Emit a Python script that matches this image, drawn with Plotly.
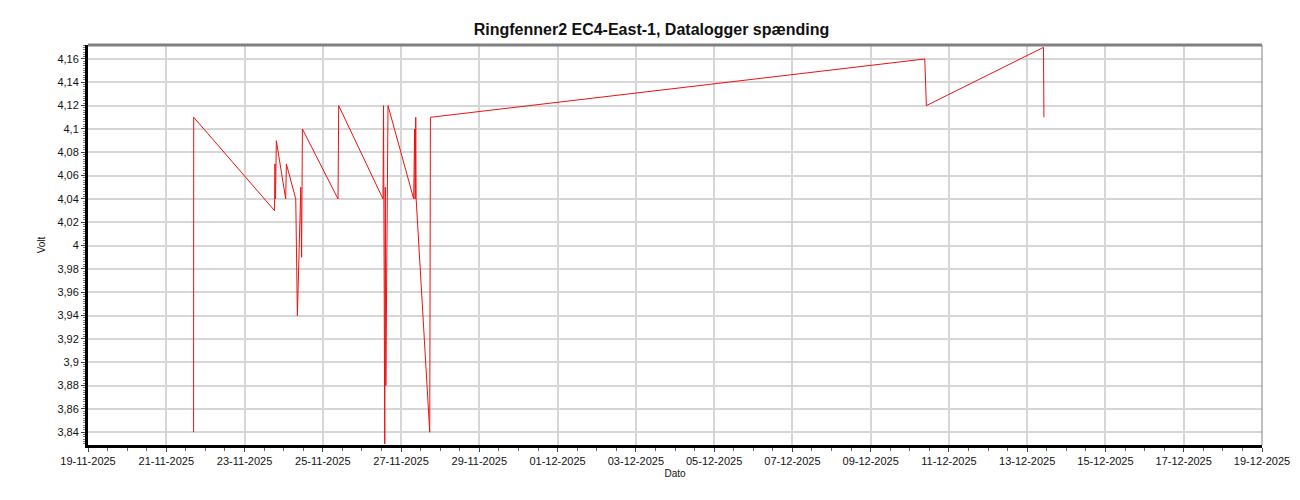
import plotly.graph_objects as go

# Logger readings (time, volt)
times = [
    "2025-11-21 16:45", "2025-11-21 16:50", "2025-11-23 18:25", "2025-11-23 18:40",
    "2025-11-23 19:00", "2025-11-23 19:30", "2025-11-24 01:15", "2025-11-24 01:40",
    "2025-11-24 07:25", "2025-11-24 08:25", "2025-11-24 10:30", "2025-11-24 11:00",
    "2025-11-24 11:30", "2025-11-25 09:20", "2025-11-25 09:45", "2025-11-26 12:55",
    "2025-11-26 13:15", "2025-11-26 14:00", "2025-11-26 14:20", "2025-11-26 14:40",
    "2025-11-26 16:00", "2025-11-27 07:45", "2025-11-27 08:20", "2025-11-27 08:40",
    "2025-11-27 09:00", "2025-11-27 09:15", "2025-11-27 17:35", "2025-11-27 18:00",
    "2025-12-10 09:10", "2025-12-10 10:10", "2025-12-13 10:00", "2025-12-13 10:15",
]
volts = [
    3.84, 4.11, 4.03, 4.07,
    4.04, 4.09, 4.04, 4.07,
    4.04, 3.94, 4.05, 3.99,
    4.10, 4.04, 4.12, 4.04,
    4.12, 3.83, 4.05, 3.88,
    4.12, 4.04, 4.10, 4.04,
    4.11, 4.04, 3.84, 4.11,
    4.16, 4.12, 4.17, 4.11,
]

title = "Ringfenner2 EC4-East-1, Datalogger spænding"
font = "Arial, Liberation Sans, sans-serif"

fig = go.Figure()
fig.add_trace(go.Scatter(x=times, y=volts, mode="lines",
                         line=dict(color="#ee1111", width=1), hoverinfo="x+y"))

# the page body adds 8px, so margins are shifted to compensate
fig.update_layout(
    width=1300, height=500,
    margin=dict(l=80, r=46, t=37, b=63),
    paper_bgcolor="white", plot_bgcolor="white",
    separators=", ",
    showlegend=False,
    font=dict(family=font, size=11, color="#111111"),
    title=dict(text="<b>" + title + "</b>", x=0.495, xanchor="center",
               y=0.958, yanchor="middle", font=dict(size=16, color="#111111")),
)

fig.update_xaxes(
    type="date",
    range=["2025-11-19", "2025-12-19"],
    tick0="2025-11-19", dtick=2 * 86400000,
    tickformat="%d-%m-%Y",
    automargin=False,
    showgrid=True, gridcolor="#d6d6d6", gridwidth=2,
    showline=True, linecolor="black", linewidth=3,
    ticks="outside", ticklen=4, tickcolor="#444444",
    minor=dict(dtick=43200000, ticks="outside", ticklen=3, tickcolor="#666666", showgrid=False),
    zeroline=False,
    title=dict(text="Dato", font=dict(size=10), standoff=4),
)
fig.update_yaxes(
    range=[3.829, 4.172],
    tick0=3.84, dtick=0.02,
    automargin=False,
    showgrid=True, gridcolor="#d6d6d6", gridwidth=2,
    showline=True, linecolor="black", linewidth=3,
    ticks="outside", ticklen=4, tickcolor="#444444",
    minor=dict(dtick=0.002, ticks="outside", ticklen=2, tickcolor="#777777", showgrid=False),
    zeroline=False,
    title=dict(text="Volt", font=dict(size=10), standoff=10),
)

# grey frame on top and right of the plot area
fig.add_shape(type="line", xref="paper", yref="paper", x0=0, x1=1, y0=1, y1=1,
              line=dict(color="#808080", width=3))
fig.add_shape(type="line", xref="paper", yref="paper", x0=1, x1=1, y0=0, y1=1,
              line=dict(color="#808080", width=1))

fig.write_html("out.html")
